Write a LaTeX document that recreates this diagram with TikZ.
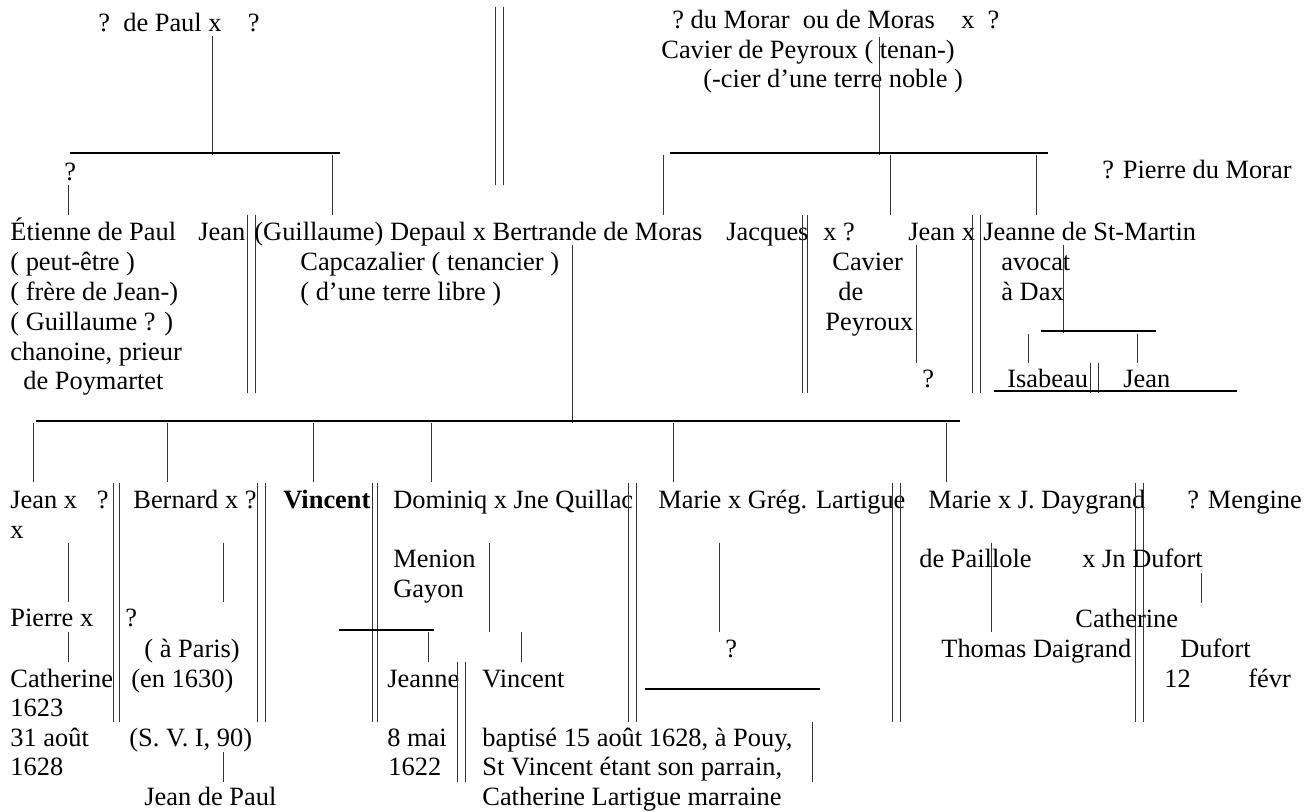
\documentclass[tikz,border=0pt]{standalone}
\usepackage{fontspec}
\setmainfont{Liberation Serif}

\begin{document}
\begin{tikzpicture}
    [x=0.5pt,y=-0.5pt,
     every node/.style={anchor=base west,inner sep=0pt,font=\fontsize{13.2}{15}\selectfont},
     bar/.style={line width=1pt},
     drop/.style={line width=0.5pt,black!80},
     sep/.style={line width=0.5pt,black!80}]
  \useasboundingbox (0,0) rectangle (1305,811);

  % de Paul
  \node (paul) at (98,31) {?\ \ de Paul x\ \ \ \ ?};
  \draw[drop] (212,36) -- (212,155);
  \draw[bar] (70,153) -- (340,153);
  \node (paulq) at (64,180) {?};
  \draw[drop] (68,185) -- (68,215);
  \draw[drop] (332,155) -- (332,215);
  \draw[sep] (495,7) -- (495,185) (503,7) -- (503,185);

  % du Morar
  \node (morar) at (672,28) {?\ du Morar\ \ ou de Moras\ \ \ \ x\ \ ?};
  \node (morarb) at (661,58) {Cavier de Peyroux ( tenan-)};
  \node (morarc) at (703,87) {(-cier d’une terre noble )};
  \draw[drop] (879,37) -- (879,155);
  \draw[bar] (670,153) -- (1048,153);
  \draw[drop] (663,155) -- (663,215);
  \draw[drop] (890,155) -- (890,215);
  \draw[drop] (1036,155) -- (1036,215);
  \node (pierremorar) at (1102,178) {? Pierre du Morar};

  % second row
  \node (etienne) at (10,240) {Étienne de Paul};
  \node (etienneb) at (10,270) {( peut-être )};
  \node (etiennec) at (10,300) {( frère de Jean-)};
  \node (etienned) at (10,330) {( Guillaume ? )};
  \node (etiennee) at (10,360) {chanoine, prieur};
  \node (etiennef) at (23,389) {de Poymartet};
  \node (jean) at (198,240) {Jean};
  \draw[sep] (247,215) -- (247,393) (255,215) -- (255,393);
  \node (guillaume) at (254,240) {(Guillaume) Depaul x Bertrande de Moras};
  \node (guillaumeb) at (300,270) {Capcazalier ( tenancier )};
  \node (guillaumec) at (300,300) {( d’une terre libre )};
  \node (jacques) at (726,240) {Jacques};
  \draw[sep] (802,215) -- (802,393) (807,215) -- (807,393);
  \node (jacquesx) at (823,240) {x ?};
  \node (cavier) at (832,270) {Cavier};
  \node (cavierb) at (838,300) {de};
  \node (cavierc) at (825,330) {Peyroux};
  \node (jeanm) at (908,240) {Jean x};
  \draw[drop] (916,245) -- (916,363);
  \node (jeanmq) at (922,387) {?};
  \draw[sep] (972,215) -- (972,393) (980,215) -- (980,393);
  \node (stmartin) at (983,240) {Jeanne de St-Martin};
  \node (avocat) at (1001,270) {avocat};
  \node (dax) at (1001,300) {à Dax};
  \draw[drop] (1063,245) -- (1063,333);
  \draw[bar] (1041,331) -- (1156,331);
  \draw[drop] (1028,334) -- (1028,363) (1137,334) -- (1137,363);
  \node (isabeau) at (1007,387) {Isabeau};
  \draw[sep] (1090,363) -- (1090,393) (1098,363) -- (1098,393);
  \node (jeand) at (1123,387) {Jean};
  \draw[bar] (994,391) -- (1237,391);

  % children of Jean (Guillaume)
  \draw[drop] (572,245) -- (572,423);
  \draw[bar] (36,421) -- (960,421);
  \foreach \x in {33,167,313,431,673,946}
    \draw[drop] (\x,423) -- (\x,482);

  % third row
  \node (jeanx) at (10,508) {Jean x\ \ \ ?};
  \node (jeanxb) at (10,538) {x};
  \draw[sep] (113,483) -- (113,722) (119,483) -- (119,722);
  \node (bernard) at (133,508) {Bernard x ?};
  \draw[sep] (257,483) -- (257,722) (265,483) -- (265,722);
  \node (vincent) at (283,508) {\textbf{Vincent}};
  \draw[sep] (372,483) -- (372,722) (377,483) -- (377,722);
  \node (dominiq) at (393,508) {Dominiq x Jne Quillac};
  \draw[sep] (628,483) -- (628,722) (636,483) -- (636,722);
  \node (marie) at (658,508) {Marie x Grég. Lartigue};
  \draw[sep] (892,483) -- (892,722) (900,483) -- (900,722);
  \node (mariej) at (928,508) {Marie x J. Daygrand};
  \draw[sep] (1135,483) -- (1135,722) (1143,483) -- (1143,722);
  \node (mengine) at (1187,508) {? Mengine};

  \node (menion) at (393,567) {Menion};
  \node (gayon) at (393,597) {Gayon};
  \draw[drop] (68,543) -- (68,602);
  \draw[drop] (223,543) -- (223,602);
  \draw[drop] (489,543) -- (489,632);
  \draw[drop] (719,543) -- (719,632);
  \draw[drop] (991,543) -- (991,632);
  \node (paillole) at (919,567) {de Paillole};
  \node (dufort) at (1082,567) {x Jn Dufort};
  \draw[drop] (1201,573) -- (1201,603);

  % fourth row
  \node (pierre) at (10,626) {Pierre x};
  \node (bernardq) at (125,626) {?};
  \draw[drop] (68,632) -- (68,662);
  \node (paris) at (144,657) {( à Paris)};
  \node (catherine) at (10,687) {Catherine};
  \node (en) at (131,687) {(en 1630)};
  \node (annee) at (10,716) {1623};
  \node (aout) at (10,746) {31 août};
  \node (svi) at (129,746) {(S. V. I, 90)};
  \node (anneeb) at (10,775) {1628};
  \draw[drop] (223,752) -- (223,782);
  \node (jeanpaul) at (144,805) {Jean de Paul};

  \draw[bar] (339,630) -- (434,630);
  \draw[drop] (428,632) -- (428,662);
  \node (jeanne) at (387,687) {Jeanne};
  \draw[sep] (457,662) -- (457,782) (465,662) -- (465,782);
  \draw[drop] (521,632) -- (521,662);
  \node (vincentb) at (482,687) {Vincent};
  \node (mai) at (387,746) {8 mai};
  \node (maib) at (388,775) {1622};
  \node (bapt) at (482,746) {baptisé 15 août 1628, à Pouy,};
  \node (baptb) at (482,775) {St Vincent étant son parrain,};
  \node (baptc) at (482,805) {Catherine Lartigue marraine};
  \draw[drop] (812,722) -- (812,782);
  \node (marieq) at (725,657) {?};
  \draw[bar] (645,689) -- (820,689);

  \node (catherined) at (1075,627) {Catherine};
  \node (thomas) at (941,657) {Thomas Daigrand};
  \node (dufortb) at (1180,657) {Dufort};
  \node (douze) at (1164,687) {12};
  \node (fevr) at (1248,687) {févr};
\end{tikzpicture}
\end{document}
